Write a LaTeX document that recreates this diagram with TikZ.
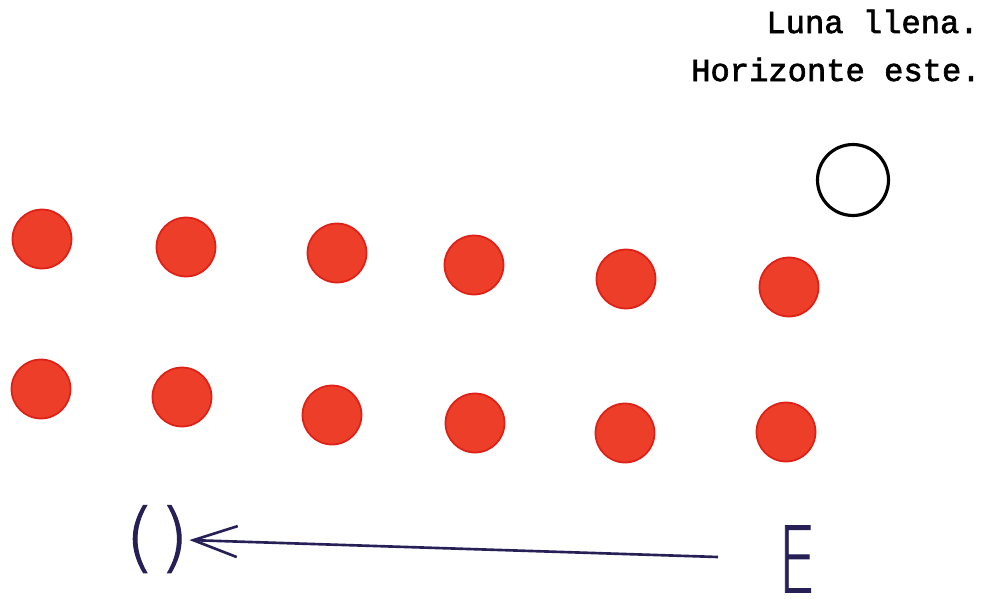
\documentclass[tikz,border=0pt]{standalone}
\usepackage{fontspec}
\usetikzlibrary{arrows.meta}
\usetikzlibrary{positioning}
\newfontfamily\typefont{Liberation Mono}[FakeBold=2]
\newfontfamily\handfont{DejaVuSans-ExtraLight.ttf}[FakeBold=1.5]
\definecolor{dotred}{RGB}{236,62,40}
\definecolor{dotrim}{RGB}{222,32,22}
\definecolor{ink}{RGB}{38,32,86}
\tikzset{
    reddot/.style={
        circle,
        fill=dotred,
        draw=dotrim,
        line width=1pt,
        minimum size=1.18cm,
        inner sep=0pt
    },
    moon/.style={
        circle,
        draw=black,
        line width=1.8pt,
        minimum size=1.42cm,
        inner sep=0pt
    },
    typed/.style={
        anchor=base east,
        inner sep=0pt,
        font=\typefont\fontsize{18.3pt}{22pt}\selectfont
    },
    hand/.style={
        inner sep=0pt,
        text=ink
    },
    arrow/.style={
        -{Straight Barb[length=0.88cm,width=0.62cm]},
        line width=1.5pt,
        draw=ink
    }
}

\begin{document}
\begin{tikzpicture}[x=0.02cm,y=-0.02cm]
            \useasboundingbox (0,0) rectangle (985,599);

            % Heading
            \node[typed] (llena) at (979,33) {Luna llena.};
            \node[typed] (horizonte) at (981,81) {Horizonte este.};

            % Full moon
            \node[moon] (luna) at (853,180) {};

            % Upper row of dots
            \node[reddot] (a1) at (42,239) {};
            \node[reddot] (a2) at (186,247) {};
            \node[reddot] (a3) at (337,253) {};
            \node[reddot] (a4) at (474,265) {};
            \node[reddot] (a5) at (626,279) {};
            \node[reddot] (a6) at (789,287) {};

            % Lower row of dots
            \node[reddot] (b1) at (41,389) {};
            \node[reddot] (b2) at (182,397) {};
            \node[reddot] (b3) at (332,415) {};
            \node[reddot] (b4) at (475,423) {};
            \node[reddot] (b5) at (625,433) {};
            \node[reddot] (b6) at (786,432) {};

            % East to west
            \node[hand, font=\handfont\fontsize{43pt}{50pt}\selectfont] (oeste) at (157,539) {(\kern0.1cm)};
            \node[hand, font=\handfont\fontsize{52pt}{60pt}\selectfont] (este) at (797,559) {\scalebox{0.66}[1]{E}};
            \coordinate (cola) at (718,557);
            \draw[arrow] (cola) -- (oeste);
\end{tikzpicture}
\end{document}
